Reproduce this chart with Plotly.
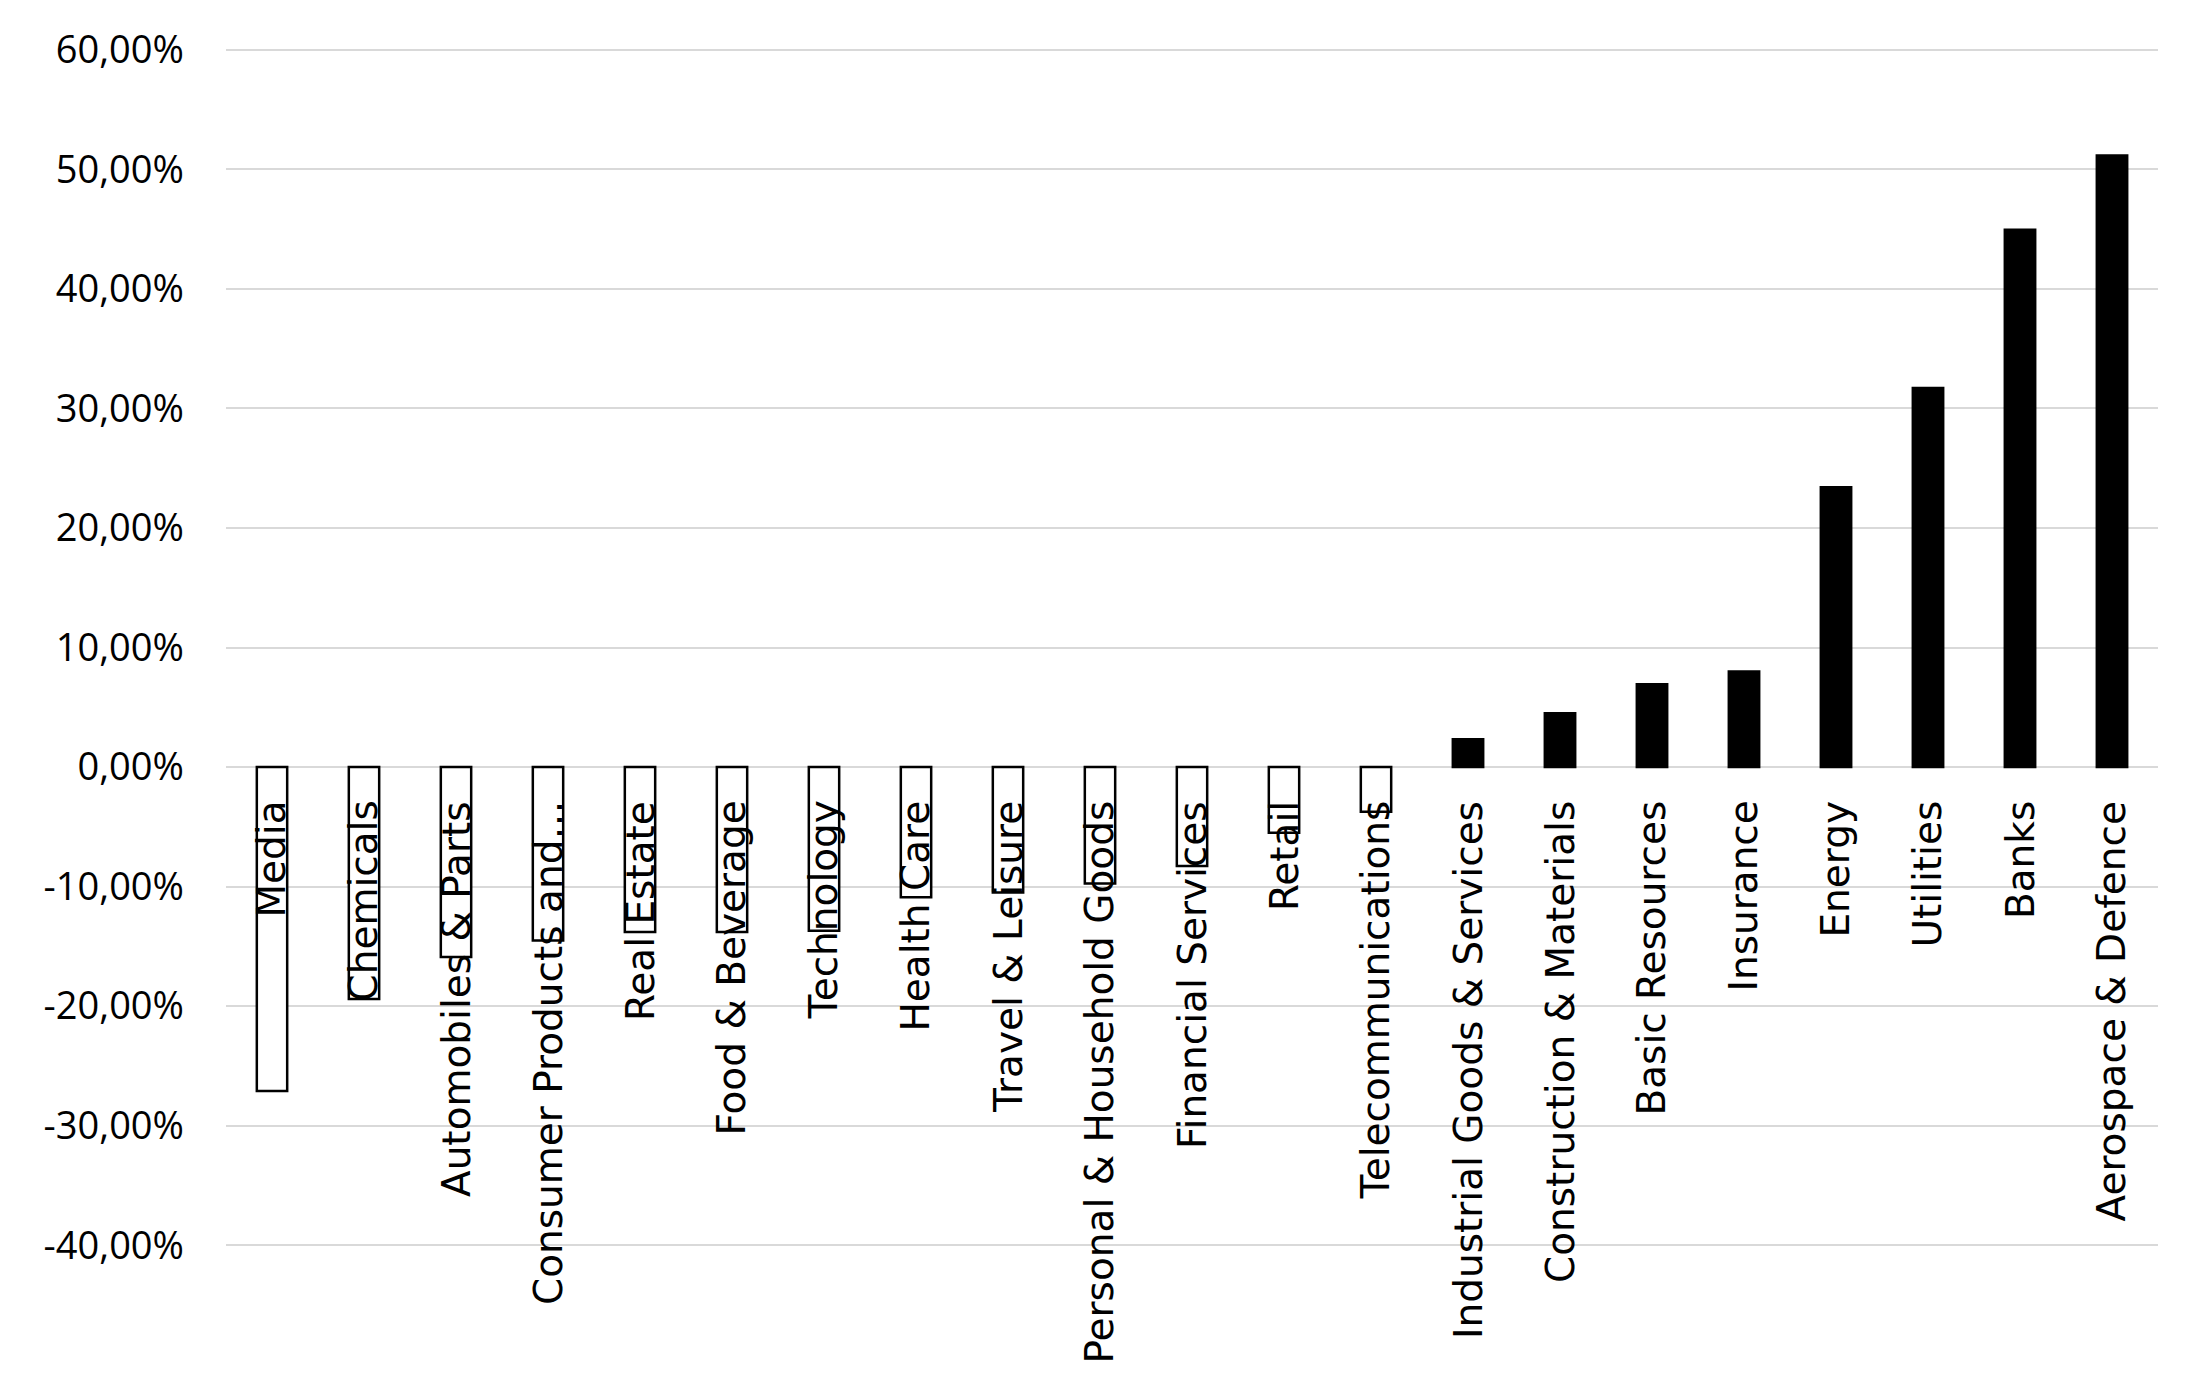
import plotly.graph_objects as go

categories = [
    "Media", "Chemicals", "Automobiles & Parts", "Consumer Products and\u2026",
    "Real Estate", "Food & Beverage", "Technology", "Health Care",
    "Travel & Leisure", "Personal & Household Goods", "Financial Services",
    "Retail", "Telecommunications", "Industrial Goods & Services",
    "Construction & Materials", "Basic Resources", "Insurance", "Energy",
    "Utilities", "Banks", "Aerospace & Defence",
]
values = [
    -0.271, -0.194, -0.159, -0.145, -0.138, -0.138, -0.137, -0.109,
    -0.105, -0.0975, -0.0827, -0.0549, -0.0373, 0.0232, 0.0449, 0.0692,
    0.0800, 0.2341, 0.3171, 0.4495, 0.5116,
]
ytick_vals = [0.6, 0.5, 0.4, 0.3, 0.2, 0.1, 0.0, -0.1, -0.2, -0.3, -0.4]
ytick_text = ["60,00%", "50,00%", "40,00%", "30,00%", "20,00%", "10,00%",
              "0,00%", "-10,00%", "-20,00%", "-30,00%", "-40,00%"]

TICK_FONT = "Open Sans"
LABEL_FONT = "DejaVu Sans"
fill = ["#000000" if v >= 0 else "#ffffff" for v in values]

fig = go.Figure()
fig.add_trace(go.Bar(
    x=categories, y=values,
    marker=dict(color=fill, line=dict(color="#000000", width=2.5)),
    showlegend=False,
))

for c in categories:
    fig.add_annotation(
        x=c, y=0, xref="x", yref="y",
        text=c, showarrow=False, textangle=-90,
        xanchor="center", yanchor="top", yshift=-32,
        font=dict(family=LABEL_FONT, size=39, color="#000000"),
    )

fig.update_layout(
    width=2209, height=1381, autosize=False,
    margin=dict(l=218, r=59, t=37, b=139),
    paper_bgcolor="#ffffff", plot_bgcolor="#ffffff",
    bargap=0.67,
    font=dict(family=TICK_FONT, size=38, color="#000000"),
)
fig.update_xaxes(
    showticklabels=False, showgrid=False, zeroline=False,
    showline=False, ticks="",
)
fig.update_yaxes(
    range=[-0.404, 0.604], tickvals=ytick_vals, ticktext=ytick_text,
    showgrid=True, gridcolor="#d9d9d9", gridwidth=2,
    zeroline=True, zerolinecolor="#d9d9d9", zerolinewidth=2,
    showline=False, ticks="", ticklabelstandoff=41,
    tickfont=dict(family=TICK_FONT, size=38, color="#000000"),
)

fig.write_html("out.html")
